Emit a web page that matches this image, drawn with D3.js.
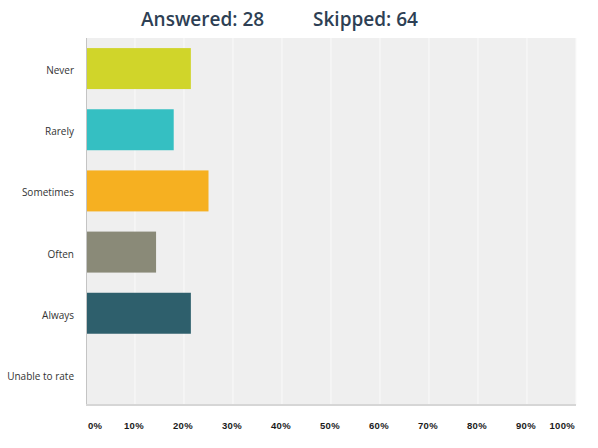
<!DOCTYPE html>
<html lang="en">
<head>
    <meta charset="UTF-8">
    <title>Answered / Skipped</title>
    <script src="https://d3js.org/d3.v7.min.js"></script>
    <style>
        body {
            margin: 0;
            background: #fff;
            font-family: "Open Sans", Arial, sans-serif;
        }
        .cat-label {
            font-size: 10px;
            fill: #333;
        }
        .tick-label {
            font-family: "Liberation Sans", Arial, sans-serif;
            font-size: 9.5px;
            font-weight: bold;
            letter-spacing: 0.3px;
            fill: #1a1a1a;
        }
        .title {
            font-size: 19px;
            font-weight: 600;
            fill: #2e3f54;
        }
    </style>
</head>
<body>
    <div id="chart"></div>
    <script>
        // Chart data
        const categories = ["Never", "Rarely", "Sometimes", "Often", "Always", "Unable to rate"];
        const percents = [21.4, 17.9, 25.0, 14.3, 21.4, 0];
        const barColors = ["#d0d52a", "#35bfc2", "#f6b021", "#8a8a78", "#2e5f6c", "#999999"];
        const tickValues = [0, 10, 20, 30, 40, 50, 60, 70, 80, 90, 100];
        const tickLabels = ["0%", "10%", "20%", "30%", "40%", "50%", "60%", "70%", "80%", "90%", "100%"];
        const answered = 28;
        const skipped = 64;

        const width = 598;
        const height = 448;
        // plot box
        const plotLeft = 86, plotRight = 576, plotTop = 38, plotBottom = 405;

        const svg = d3.select("#chart")
            .append("svg")
            .attr("width", width)
            .attr("height", height);

        // Header
        svg.append("text")
            .attr("class", "title")
            .attr("x", 141)
            .attr("y", 26)
            .text("Answered: " + answered);
        svg.append("text")
            .attr("class", "title")
            .attr("x", 313)
            .attr("y", 26)
            .text("Skipped: " + skipped);

        const x = d3.scaleLinear().domain([0, 100]).range([plotLeft, plotRight]);
        const y = d3.scaleBand()
            .domain(categories)
            .range([plotTop, plotBottom])
            .paddingInner(0.33)
            .paddingOuter(0.165);

        // plot background
        svg.append("rect")
            .attr("x", plotLeft)
            .attr("y", plotTop)
            .attr("width", plotRight - plotLeft)
            .attr("height", plotBottom - plotTop)
            .attr("fill", "#efefef");

        // vertical gridlines
        svg.selectAll(".grid")
            .data(tickValues.slice(1))
            .enter().append("line")
            .attr("x1", d => x(d))
            .attr("x2", d => x(d))
            .attr("y1", plotTop)
            .attr("y2", plotBottom)
            .attr("stroke", "#fafafa")
            .attr("stroke-width", 1);

        // bars
        svg.selectAll(".bar")
            .data(categories)
            .enter().append("rect")
            .attr("x", x(0))
            .attr("y", d => y(d))
            .attr("width", (d, i) => x(percents[i]) - x(0))
            .attr("height", y.bandwidth())
            .attr("fill", (d, i) => barColors[i]);

        // axis lines
        svg.append("line")
            .attr("x1", plotLeft + 0.5).attr("x2", plotLeft + 0.5)
            .attr("y1", plotTop).attr("y2", plotBottom)
            .attr("stroke", "#c4c4c4");
        svg.append("line")
            .attr("x1", plotLeft).attr("x2", plotRight)
            .attr("y1", plotBottom).attr("y2", plotBottom)
            .attr("stroke", "#d6d6d6")
            .attr("stroke-width", 2);

        // category labels
        svg.selectAll(".cat-label")
            .data(categories)
            .enter().append("text")
            .attr("class", "cat-label")
            .attr("x", 74)
            .attr("y", d => y(d) + y.bandwidth() / 2 + 2)
            .attr("dy", "0.35em")
            .attr("text-anchor", "end")
            .text(d => d);

        // x tick labels
        const last = tickValues.length - 1;
        svg.selectAll(".tick-label")
            .data(tickValues)
            .enter().append("text")
            .attr("class", "tick-label")
            .attr("x", (d, i) => i === 0 ? x(d) + 2 : x(d) - 1)
            .attr("y", 429)
            .attr("text-anchor", (d, i) => i === 0 ? "start" : (i === last ? "end" : "middle"))
            .text((d, i) => tickLabels[i]);
    </script>
</body>
</html>
